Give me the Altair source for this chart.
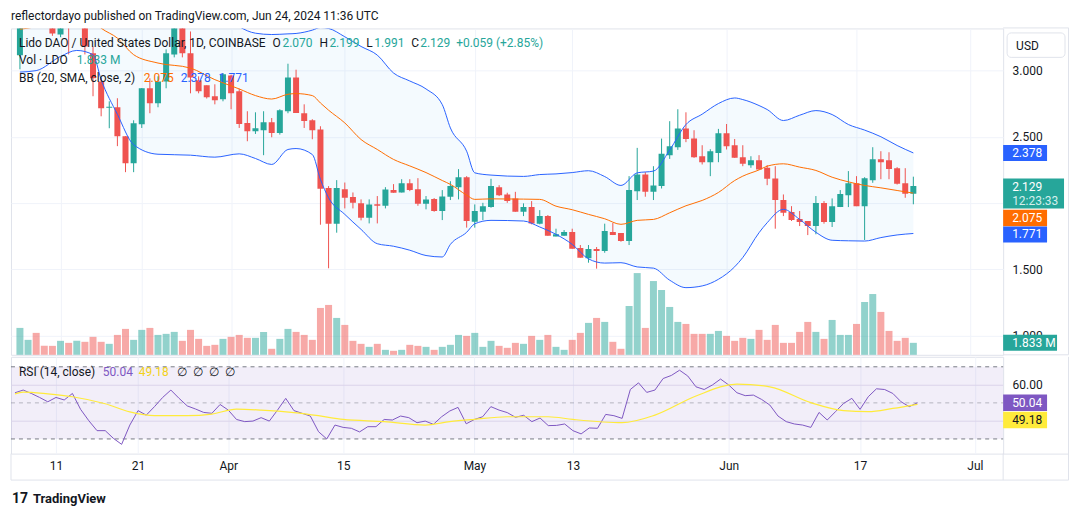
import altair as alt
import pandas as pd

# ---------------- data ----------------
# candle index 0 = 2024-03-06, one candle per day up to 2024-06-24
OPEN = [3.113, 3.40, 3.52, 3.42, 3.36, 3.271, 3.36, 3.34, 3.45, 3.128,
        2.917, 2.718, 2.722, 2.504, 2.301, 2.594, 2.865, 2.752, 2.917, 3.120,
        3.33, 3.128, 2.925, 2.887, 2.805, 2.782, 2.962, 2.842, 2.604, 2.541,
        2.549, 2.609, 2.529, 2.692, 2.947, 2.677, 2.624, 2.554, 2.113, 1.845,
        2.105, 2.045, 1.998, 1.890, 1.992, 1.980, 2.098, 2.080, 2.150, 2.105,
        1.995, 2.030, 1.940, 2.048, 2.120, 2.195, 1.860, 1.935, 1.970, 2.120,
        2.065, 2.035, 1.935, 1.970, 1.845, 1.902, 1.749, 1.754, 1.782, 1.662,
        1.584, 1.654, 1.639, 1.782, 1.774, 1.714, 2.090, 2.216, 2.085, 2.128,
        2.361, 2.421, 2.562, 2.486, 2.353, 2.308, 2.378, 2.526, 2.436, 2.346,
        2.286, 2.323, 2.266, 2.186, 2.023, 1.932, 1.880, 1.865, 1.827, 2.000,
        1.857, 1.970, 2.060, 2.150, 1.977, 2.173, 2.331, 2.323, 2.263, 2.150,
        2.070]
HIGH = [3.50, 3.62, 3.60, 3.50, 3.40, 3.38, 3.42, 3.52, 3.50, 3.180,
        2.940, 2.767, 2.790, 2.504, 2.624, 2.867, 2.940, 2.955, 3.158, 3.40,
        3.40, 3.293, 2.955, 2.887, 2.895, 2.980, 2.967, 2.862, 2.692, 2.684,
        2.692, 2.641, 2.707, 3.050, 3.005, 2.744, 2.632, 2.579, 2.128, 2.173,
        2.155, 2.080, 2.028, 2.028, 2.053, 2.120, 2.143, 2.180, 2.180, 2.188,
        2.053, 2.038, 2.098, 2.165, 2.256, 2.203, 1.990, 2.002, 2.183, 2.135,
        2.078, 2.085, 1.998, 2.015, 1.947, 1.910, 1.807, 1.797, 1.807, 1.684,
        1.684, 1.669, 1.845, 1.850, 1.774, 2.203, 2.416, 2.233, 2.278, 2.486,
        2.617, 2.707, 2.684, 2.549, 2.436, 2.406, 2.559, 2.596, 2.483, 2.436,
        2.353, 2.361, 2.286, 2.278, 2.065, 1.977, 1.940, 1.865, 2.053, 2.015,
        2.035, 2.098, 2.241, 2.203, 2.195, 2.421, 2.391, 2.383, 2.271, 2.263,
        2.199]
LOW = [3.008, 3.33, 3.35, 3.32, 3.26, 3.25, 3.120, 3.325, 3.120, 2.805,
       2.654, 2.564, 2.429, 2.233, 2.233, 2.566, 2.677, 2.722, 2.865, 3.098,
       3.098, 2.827, 2.827, 2.788, 2.744, 2.767, 2.707, 2.566, 2.466, 2.521,
       2.361, 2.496, 2.516, 2.677, 2.679, 2.566, 2.481, 1.837, 1.509, 1.777,
       1.960, 1.960, 1.870, 1.847, 1.847, 1.960, 2.078, 2.080, 2.090, 1.980,
       1.953, 1.935, 1.872, 2.023, 2.028, 1.815, 1.815, 1.872, 1.965, 2.053,
       2.002, 1.935, 1.902, 1.840, 1.840, 1.754, 1.749, 1.754, 1.656, 1.589,
       1.551, 1.506, 1.626, 1.759, 1.709, 1.684, 2.023, 2.048, 2.023, 2.110,
       2.333, 2.401, 2.459, 2.341, 2.291, 2.203, 2.308, 2.404, 2.341, 2.278,
       2.266, 2.253, 2.135, 1.807, 1.902, 1.865, 1.827, 1.759, 1.765, 1.845,
       1.820, 1.970, 1.970, 1.977, 1.722, 2.153, 2.180, 2.180, 2.140, 2.040,
       1.991]
CLOSE = [3.40, 3.52, 3.42, 3.36, 3.278, 3.34, 3.33, 3.45, 3.180, 2.940,
         2.714, 2.726, 2.504, 2.301, 2.602, 2.865, 2.752, 2.917, 3.128, 3.33,
         3.128, 2.947, 2.842, 2.797, 2.774, 2.970, 2.827, 2.596, 2.541, 2.564,
         2.609, 2.529, 2.699, 2.947, 2.679, 2.619, 2.549, 2.108, 1.845, 2.113,
         2.040, 2.002, 1.890, 1.990, 1.980, 2.103, 2.078, 2.150, 2.098, 1.995,
         2.028, 1.940, 2.050, 2.128, 2.195, 1.865, 1.940, 1.977, 2.128, 2.060,
         2.015, 1.935, 1.970, 1.847, 1.902, 1.754, 1.765, 1.782, 1.656, 1.589,
         1.654, 1.639, 1.789, 1.759, 1.714, 2.098, 2.216, 2.085, 2.133, 2.371,
         2.429, 2.562, 2.483, 2.346, 2.308, 2.391, 2.526, 2.429, 2.341, 2.296,
         2.323, 2.253, 2.183, 2.023, 1.927, 1.872, 1.857, 1.827, 2.000, 1.857,
         1.977, 2.068, 2.150, 1.977, 2.188, 2.331, 2.308, 2.256, 2.145, 2.070,
         2.129]
VOLUME_M = [4.12, 2.29, 3.36, 1.37, 1.37, 2.14, 1.83, 2.14, 1.99, 2.75,
            1.99, 1.68, 3.05, 3.97, 2.29, 3.82, 4.12, 3.05, 3.21, 3.51,
            2.14, 3.82, 2.44, 1.37, 1.53, 2.44, 2.75, 3.05, 2.60, 2.60,
            3.51, 0.92, 2.44, 3.97, 3.51, 3.05, 2.29, 7.18, 7.64, 5.65,
            4.58, 2.14, 1.68, 1.22, 1.68, 0.76, 0.61, 0.76, 1.53, 1.37,
            1.22, 0.76, 1.22, 1.53, 3.05, 2.90, 3.36, 1.22, 2.14, 1.37,
            1.07, 1.83, 1.68, 2.90, 2.29, 3.05, 1.22, 0.76, 2.29, 3.36,
            4.89, 5.65, 5.04, 1.99, 0.92, 7.48, 12.52, 4.12, 11.30, 9.93,
            7.33, 5.04, 4.73, 3.21, 3.21, 3.21, 3.66, 2.90, 2.14, 2.60,
            2.44, 3.82, 2.29, 4.58, 1.83, 1.83, 3.51, 5.04, 3.51, 2.44,
            5.34, 3.05, 3.05, 4.73, 8.09, 9.31, 6.57, 3.66, 2.14, 2.60,
            1.833]
RSI = [55.6, 57.1, 55.2, 53.0, 50.6, 53.0, 51.6, 55.2, 46.4, 40.1,
       34.6, 34.6, 30.3, 27.0, 37.7, 45.7, 43.2, 47.9, 53.0, 57.1,
       52.5, 48.3, 46.6, 44.7, 44.2, 49.1, 46.0, 40.8, 39.6, 39.9,
       41.8, 39.9, 46.0, 52.5, 45.7, 44.2, 42.7, 34.0, 30.0, 37.7,
       36.4, 35.9, 33.9, 36.8, 36.8, 40.8, 40.5, 42.7, 41.8, 39.0,
       39.9, 38.1, 42.3, 45.5, 47.5, 38.4, 40.8, 42.3, 47.9, 46.0,
       44.6, 42.0, 43.1, 39.6, 41.6, 37.4, 37.5, 38.3, 34.6, 32.8,
       36.1, 35.9, 43.6, 42.9, 41.4, 57.4, 61.1, 55.8, 57.1, 63.5,
       65.2, 68.1, 64.9, 58.9, 57.4, 59.9, 63.2, 59.9, 55.6, 54.0,
       54.3, 51.9, 48.8, 42.7, 39.6, 38.3, 37.7, 36.4, 44.7, 40.5,
       45.1, 49.7, 52.5, 46.4, 53.4, 57.8, 57.4, 55.2, 50.6, 47.9,
       50.04]
RSI_MA_IDX = [0, 1, 4, 7, 11, 14, 17, 21, 24, 27, 30, 34, 37, 40, 45, 50,
              53, 56, 60, 65, 68, 74, 78, 83, 88, 92, 97, 101, 104, 107, 110]
RSI_MA = [55.0, 56.0, 55.0, 53.4, 49.5, 45.0, 42.9, 42.9, 43.8, 46.5, 46.0,
          44.6, 42.9, 40.8, 39.6, 37.7, 39.6, 40.9, 42.3, 42.3, 40.8, 39.0,
          43.2, 53.8, 60.4, 58.9, 50.1, 45.7, 45.1, 46.9, 49.18]

BB_IDX = [0, 2, 5, 7, 9, 10, 12, 14, 17, 21, 24, 27, 29, 31, 33, 34, 36, 37,
          38, 40, 42, 44, 46, 48, 50, 52, 53, 55, 56, 58, 62, 64, 66, 68, 70,
          72, 74, 76, 78, 80, 82, 84, 86, 88, 89, 91, 92, 94, 96, 98, 100,
          102, 104, 106, 108, 110]
BB_UPPER = [3.95, 4.00, 4.05, 4.10, 4.10, 4.10, 4.05, 3.95, 3.85, 3.70, 3.50,
            3.33, 3.28, 3.27, 3.275, 3.278, 3.303, 3.323, 3.316, 3.253, 3.18,
            3.115, 2.98, 2.92, 2.86, 2.742, 2.566, 2.391, 2.228, 2.211, 2.201,
            2.215, 2.22, 2.23, 2.244, 2.20, 2.133, 2.228, 2.241, 2.40, 2.592,
            2.67, 2.75, 2.792, 2.78, 2.735, 2.705, 2.622, 2.662, 2.697, 2.667,
            2.592, 2.55, 2.50, 2.434, 2.378]
BB_BASIS = [3.31, 3.33, 3.40, 3.42, 3.37, 3.318, 3.243, 3.118, 3.055, 3.017,
            2.93, 2.86, 2.81, 2.784, 2.82, 2.825, 2.810, 2.754, 2.70, 2.604,
            2.479, 2.404, 2.329, 2.28, 2.23, 2.17, 2.141, 2.06, 2.028, 2.032,
            2.03, 2.028, 1.977, 1.95, 1.915, 1.882, 1.840, 1.870, 1.877, 1.927,
            1.98, 2.02, 2.08, 2.17, 2.203, 2.25, 2.278, 2.296, 2.271, 2.246,
            2.195, 2.16, 2.133, 2.115, 2.095, 2.075]
BB_LOWER = [2.987, 2.998, 3.105, 3.150, 3.118, 2.93, 2.669, 2.44, 2.368, 2.361,
            2.346, 2.371, 2.336, 2.291, 2.404, 2.411, 2.366, 2.178, 2.040,
            1.915, 1.802, 1.694, 1.675, 1.645, 1.605, 1.594, 1.689, 1.78, 1.844,
            1.870, 1.865, 1.82, 1.765, 1.689, 1.58, 1.548, 1.551, 1.519, 1.51,
            1.419, 1.363, 1.376, 1.426, 1.52, 1.59, 1.777, 1.852, 1.953, 1.877,
            1.78, 1.720, 1.716, 1.714, 1.74, 1.76, 1.771]

TICK_POS = [5, 15, 26, 40, 56, 68, 87, 103, 117]
TICK_LABELS = ["11", "21", "Apr", "15", "May", "13", "Jun", "17", "Jul"]
PRICE_TICKS = [1.0, 1.5, 2.0, 2.5, 3.0]
RSI_TICKS = [40, 60]
RSI_LEVELS = [30, 50, 70]
RSI_LEVEL_OPACITY = [1.0, 0.5, 1.0]

# ---------------- style ----------------
FONT = "Roboto"
TXT = "#131722"
GRID = "#F0F3FA"
FRAME = "#E0E3EB"
UP, DOWN = "#26A69A", "#EF5350"
BLUE, ORANGE, PURPLE, YELLOW = "#2962FF", "#FF6D00", "#7E57C2", "#FFEB3B"
W, H_MAIN, H_RSI = 994, 327, 97
RIGHT_EDGE = 1059.5
XDOM = [-0.487, 120.44]
YDOM = [0.857, 3.316]
VDOM = [0, 50]
RDOM = [21.86, 75.53]

N = len(CLOSE)
IDX = list(range(N))
candles = pd.DataFrame({"i": IDX, "o": OPEN, "h": HIGH, "l": LOW, "c": CLOSE, "v": VOLUME_M})
candles["dir"] = ["up" if c >= o else "down" for o, c in zip(OPEN, CLOSE)]
candles["lo"] = candles[["o", "c"]].min(axis=1)
candles["hi"] = candles[["o", "c"]].max(axis=1)
bb = pd.DataFrame({"i": BB_IDX, "upper": BB_UPPER, "basis": BB_BASIS, "lower": BB_LOWER})
rsi_df = pd.DataFrame({"i": IDX, "rsi": RSI})
rsima_df = pd.DataFrame({"i": RSI_MA_IDX, "ma": RSI_MA})
one = pd.DataFrame({"k": [0]})

xs = alt.Scale(domain=XDOM, nice=False, zero=False)
ys = alt.Scale(domain=YDOM, nice=False, zero=False)
vs = alt.Scale(domain=VDOM, nice=False, zero=True)
rs = alt.Scale(domain=RDOM, nice=False, zero=False)

ax_x_main = alt.Axis(values=TICK_POS, grid=True, gridColor=GRID, labels=False,
                     ticks=False, domain=False, title=None)
label_expr = "''"
for p, lab in reversed(list(zip(TICK_POS, TICK_LABELS))):
    label_expr = f"datum.value == {p} ? '{lab}' : ({label_expr})"
ax_x_rsi = alt.Axis(values=TICK_POS, grid=True, gridColor=GRID, ticks=False, domain=False,
                    title=None, labelExpr=label_expr, labelPadding=7, labelFontSize=12,
                    labelColor=TXT, labelFont=FONT, labelOverlap=False, labelFlush=False)
ax_y_main = alt.Axis(orient="right", values=PRICE_TICKS, format=".3f", grid=True, gridColor=GRID,
                     ticks=False, domain=False, labelPadding=9, labelFontSize=12, labelColor=TXT,
                     labelFont=FONT, title=None, labelAlign="left", labelBaseline="middle")
ax_y_rsi = alt.Axis(orient="right", values=RSI_TICKS, format=".2f", grid=True, gridColor="#E6E2EF",
                    ticks=False, domain=False, labelPadding=9, labelFontSize=12, labelColor=TXT,
                    labelFont=FONT, title=None, labelAlign="left", labelBaseline="middle")

col = alt.Color("dir:N", scale=alt.Scale(domain=["up", "down"], range=[UP, DOWN]), legend=None)


def XM():
    return alt.X("i:Q", scale=xs, axis=ax_x_main)


def XR():
    return alt.X("i:Q", scale=xs, axis=ax_x_rsi)


def YP(f):
    return alt.Y(f"{f}:Q", scale=ys, axis=ax_y_main)


def YR(f):
    return alt.Y(f"{f}:Q", scale=rs, axis=ax_y_rsi)


def text(x, y, s, color=TXT, size=12, weight="normal"):
    return alt.Chart(one).mark_text(align="left", baseline="middle", font=FONT, fontSize=size,
                                    color=color, fontWeight=weight).encode(
        x=alt.value(x), y=alt.value(y), text=alt.value(s))


def vrule(x, y1, y2):
    return alt.Chart(one).mark_rule(color=FRAME).encode(
        x=alt.value(x), y=alt.value(y1), y2=alt.value(y2))


def hrule(x1, x2, y):
    return alt.Chart(one).mark_rule(color=FRAME).encode(
        x=alt.value(x1), x2=alt.value(x2), y=alt.value(y))


def tag(value, yenc, label, fill, tcolor, w, h, off, dy=0):
    df = pd.DataFrame({"v": [value]})
    box = alt.Chart(df).mark_rule(strokeWidth=h, strokeCap="butt", color=fill, yOffset=off).encode(
        x=alt.value(W), x2=alt.value(W + w), y=yenc)
    t = alt.Chart(df).mark_text(align="left", baseline="middle", font=FONT, fontSize=12,
                                color=tcolor, dy=dy).encode(
        x=alt.value(W + 9), y=yenc, text=alt.value(label))
    return [box, t]


# ---------------- main pane ----------------
bounds = alt.Chart(one).mark_rect(color="white").encode(
    x=alt.value(-10), x2=alt.value(0), y=alt.value(-27), y2=alt.value(0))
bb_fill = alt.Chart(bb).mark_area(clip=True, color="#2196F3", opacity=0.05, interpolate="monotone").encode(
    x=XM(), y=YP("upper"), y2=alt.Y2("lower"))
wicks = alt.Chart(candles).mark_rule(clip=True, strokeWidth=1).encode(
    x=XM(), y=YP("l"), y2=alt.Y2("h"), color=col)
bodies = alt.Chart(candles).mark_bar(clip=True, size=6).encode(
    x=XM(), y=YP("lo"), y2=alt.Y2("hi"), color=col)
up_line = alt.Chart(bb).mark_line(clip=True, color=BLUE, strokeWidth=1, interpolate="monotone").encode(
    x=XM(), y=YP("upper"))
lo_line = alt.Chart(bb).mark_line(clip=True, color=BLUE, strokeWidth=1, interpolate="monotone").encode(
    x=XM(), y=YP("lower"))
mid_line = alt.Chart(bb).mark_line(clip=True, color=ORANGE, strokeWidth=1, interpolate="monotone").encode(
    x=XM(), y=YP("basis"))

last_c = CLOSE[-1]
chg = CLOSE[-1] - CLOSE[-2]
price_tags = []
price_tags += tag(BB_UPPER[-1], YP("v"), f"{BB_UPPER[-1]:.3f}", BLUE, "white", 44, 16, 0)
price_tags += tag(last_c, YP("v"), f"{last_c:.3f}", UP, "white", 61, 30, 7.5, dy=1)
price_tags += tag(last_c, YP("v"), "12:23:33", UP, "#D4EFEC", 61, 0.01, 0, dy=15.5)
price_tags += tag(BB_BASIS[-1], YP("v"), f"{BB_BASIS[-1]:.3f}", ORANGE, "white", 44, 16.5, 24.8, dy=24.8)
price_tags += tag(BB_LOWER[-1], YP("v"), f"{BB_LOWER[-1]:.3f}", BLUE, "white", 44, 16, 1, dy=1)

usd_box = alt.Chart(one).mark_rect(fill="white", stroke=FRAME, strokeWidth=1, cornerRadius=4).encode(
    x=alt.value(W + 4), x2=alt.value(W + 62), y=alt.value(4.5), y2=alt.value(29))

legend = [
    text(0, -12, "reflectordayo published on TradingView.com, Jun 24, 2024 11:36 UTC"),
    text(8, 15, "Lido DAO / United States Dollar, 1D, COINBASE"),
    text(262, 15, "O"), text(272, 15, f"{OPEN[-1]:.3f}", UP),
    text(309, 15, "H"), text(319, 15, f"{HIGH[-1]:.3f}", UP),
    text(356, 15, "L"), text(364, 15, f"{LOW[-1]:.3f}", UP),
    text(401, 15, "C"), text(410, 15, f"{CLOSE[-1]:.3f}", UP),
    text(446, 15, f"+{chg:.3f} (+{chg / CLOSE[-2] * 100:.2f}%)", UP),
    text(8, 32, "Vol · LDO"), text(66, 32, f"{VOLUME_M[-1]:.3f} M", UP),
    text(8, 50, "BB (20, SMA, close, 2)"),
    text(133, 50, f"{BB_BASIS[-1]:.3f}", ORANGE),
    text(170, 50, f"{BB_UPPER[-1]:.3f}", BLUE),
    text(208, 50, f"{BB_LOWER[-1]:.3f}", BLUE),
    usd_box,
    text(W + 13, 17.3, "USD"),
]
main_frame = [hrule(W, RIGHT_EDGE, -0.5), vrule(RIGHT_EDGE, -0.5, H_MAIN),
              hrule(W, RIGHT_EDGE, H_MAIN)]

price_group = alt.layer(bounds, bb_fill, wicks, bodies, up_line, lo_line, mid_line,
                        *price_tags, *legend, *main_frame)

vol_bars = alt.Chart(candles).mark_bar(size=7, opacity=0.5).encode(
    x=XM(), y=alt.Y("v:Q", scale=vs, axis=None), color=col)
vol_tag = tag(VOLUME_M[-1], alt.Y("v:Q", scale=vs, axis=None), f"{VOLUME_M[-1]:.3f} M",
              UP, "white", 54, 16, 0)
vol_group = alt.layer(vol_bars, *vol_tag)

main = alt.layer(vol_group, price_group).resolve_scale(y="independent").properties(
    width=W, height=H_MAIN)

# ---------------- RSI pane ----------------
band = alt.Chart(pd.DataFrame({"lo": [RSI_LEVELS[0]], "hi": [RSI_LEVELS[2]]})).mark_rect(
    color=PURPLE, opacity=0.1).encode(
    x=alt.value(0), x2=alt.value(W), y=YR("lo"), y2=alt.Y2("hi"))
levels = alt.Chart(pd.DataFrame({"lvl": RSI_LEVELS, "op": RSI_LEVEL_OPACITY})).mark_rule(
    color="#787B86", strokeDash=[4, 4], strokeWidth=1).encode(
    x=alt.value(0), x2=alt.value(W), y=YR("lvl"), opacity=alt.Opacity("op:Q", scale=None))
rsi_line = alt.Chart(rsi_df).mark_line(clip=True, color=PURPLE, strokeWidth=1).encode(
    x=XR(), y=YR("rsi"))
ma_line = alt.Chart(rsima_df).mark_line(clip=True, color=YELLOW, strokeWidth=1.2,
                                         interpolate="monotone").encode(x=XR(), y=YR("ma"))
rsi_tags = []
rsi_tags += tag(RSI[-1], YR("v"), f"{RSI[-1]:.2f}", PURPLE, "white", 44, 16.5, 0)
rsi_tags += tag(RSI_MA[-1], YR("v"), f"{RSI_MA[-1]:.2f}", YELLOW, TXT, 44, 16.5, 15.7, dy=15.7)
rsi_legend = [
    text(8, 15, "RSI (14, close)"),
    text(92, 15, f"{RSI[-1]:.2f}", PURPLE),
    text(128, 15, f"{RSI_MA[-1]:.2f}", "#F2D21B"),
    text(166, 15, "∅"), text(182, 15, "∅"), text(198, 15, "∅"), text(214, 15, "∅"),
    text(22, 142, "TradingView", TXT, 13, "bold"),
    text(1, 142, "17", TXT, 14, "bold"),
]
rsi_frame = [
    vrule(RIGHT_EDGE, 0, 123.5),
    hrule(0, RIGHT_EDGE, 123.5),
    hrule(W, RIGHT_EDGE, H_RSI + 0.5),
    vrule(W, H_RSI, 123.5),
    vrule(0, H_RSI, 123.5),
]
rsi = alt.layer(band, levels, rsi_line, ma_line, *rsi_tags, *rsi_legend, *rsi_frame).properties(
    width=W, height=H_RSI)

chart = alt.vconcat(main, rsi, spacing=0).properties(
    padding=0, background="white"
).configure_view(stroke=FRAME, strokeWidth=1).configure_axis(labelFont=FONT)

chart.save("out.html", embed_options={"renderer": "svg", "actions": False})
